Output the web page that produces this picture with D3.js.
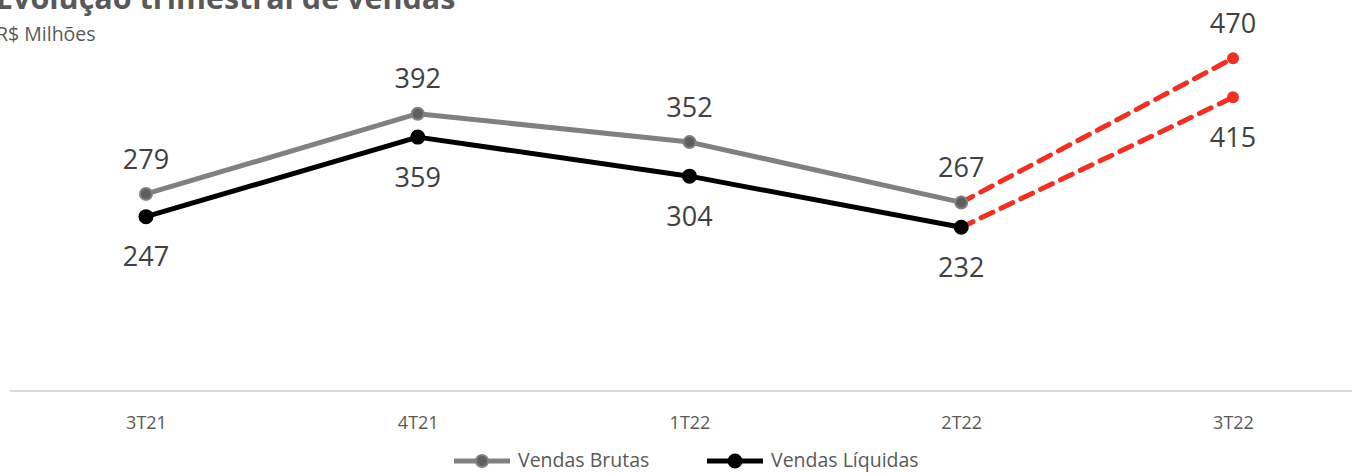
<!DOCTYPE html>
<html><head><meta charset="utf-8">
<script src="https://cdn.jsdelivr.net/npm/d3@7"></script>
<style>html,body{margin:0;padding:0;background:#fff;overflow:hidden}</style>
</head><body>
<svg id="c" width="1352" height="473"></svg>
<script>
const categories = ["3T21","4T21","1T22","2T22","3T22"];
const vendasBrutas = [279,392,352,267,470];
const vendasLiquidas = [247,359,304,232,415];
const seriesNames = ["Vendas Brutas","Vendas Líquidas"];
const title = "Evolução trimestral de vendas";
const subtitle = "R$ Milhões";

const svg = d3.select("#c");
const font = "'Open Sans', sans-serif";
const x = d3.scalePoint().domain(categories).range([146,1233]);
const y = d3.scaleLinear().domain([0,500]).range([392,37]);

svg.append("text").attr("x",-4).attr("y",9).attr("font-family",font).attr("font-weight","bold")
  .attr("font-size",30.5).attr("fill","#595959").text(title);
svg.append("text").attr("x",-4).attr("y",41).attr("font-family",font)
  .attr("font-size",19.5).attr("fill","#595959").text(subtitle);

// axis
const ax = svg.append("g").attr("transform","translate(0,391)").call(d3.axisBottom(x).tickSize(0).tickPadding(25));
ax.select(".domain").attr("d","M10,0H1352").attr("stroke","#d9d9d9").attr("stroke-width",2);
ax.selectAll("text").attr("font-family",font).attr("font-size",18).attr("fill","#595959");

const line = d3.line().x(d=>x(d.c)).y(d=>y(d.v));
const mk = arr => arr.map((v,i)=>({c:categories[i],v}));
const series = [
  {name:seriesNames[0], data:mk(vendasBrutas), color:"#808080", fill:"#5e5e5e", r:6, lab:-35},
  {name:seriesNames[1], data:mk(vendasLiquidas), color:"#000000", fill:"#000000", r:6.5, lab:40}
];
const red = "#ee3124";
series.forEach(s=>{
  const solid = s.data.slice(0,4), dash = s.data.slice(3);
  svg.append("path").attr("d",line(dash)).attr("fill","none").attr("stroke",red)
    .attr("stroke-width",5).attr("stroke-dasharray","13 9").attr("stroke-linecap","round");
  svg.append("path").attr("d",line(solid)).attr("fill","none").attr("stroke",s.color)
    .attr("stroke-width",5).attr("stroke-linejoin","round");
  svg.selectAll(null).data(solid).enter().append("circle")
    .attr("cx",d=>x(d.c)).attr("cy",d=>y(d.v)).attr("r",s.r)
    .attr("fill",s.fill).attr("stroke",s.color).attr("stroke-width",2);
  svg.append("circle").attr("cx",x(dash[1].c)).attr("cy",y(dash[1].v)).attr("r",6).attr("fill",red);
  svg.selectAll(null).data(s.data).enter().append("text")
    .attr("x",d=>x(d.c)).attr("y",d=>y(d.v)+s.lab).attr("dy","0.36em")
    .attr("text-anchor","middle").attr("font-family",font).attr("font-size",27)
    .attr("fill","#404040").text(d=>d.v);
});

// legend
const lg = [{x:454,s:series[0]},{x:707,s:series[1]}];
lg.forEach(l=>{
  const g = svg.append("g");
  g.append("line").attr("x1",l.x).attr("x2",l.x+56).attr("y1",461).attr("y2",461)
    .attr("stroke",l.s.color).attr("stroke-width",5);
  g.append("circle").attr("cx",l.x+28).attr("cy",461).attr("r",l.s.r)
    .attr("fill",l.s.fill).attr("stroke",l.s.color).attr("stroke-width",2);
  g.append("text").attr("x",l.x+64).attr("y",460).attr("dy","0.35em").attr("font-family",font)
    .attr("font-size",19.5).attr("fill","#595959").text(l.s.name);
});
</script>
</body></html>
